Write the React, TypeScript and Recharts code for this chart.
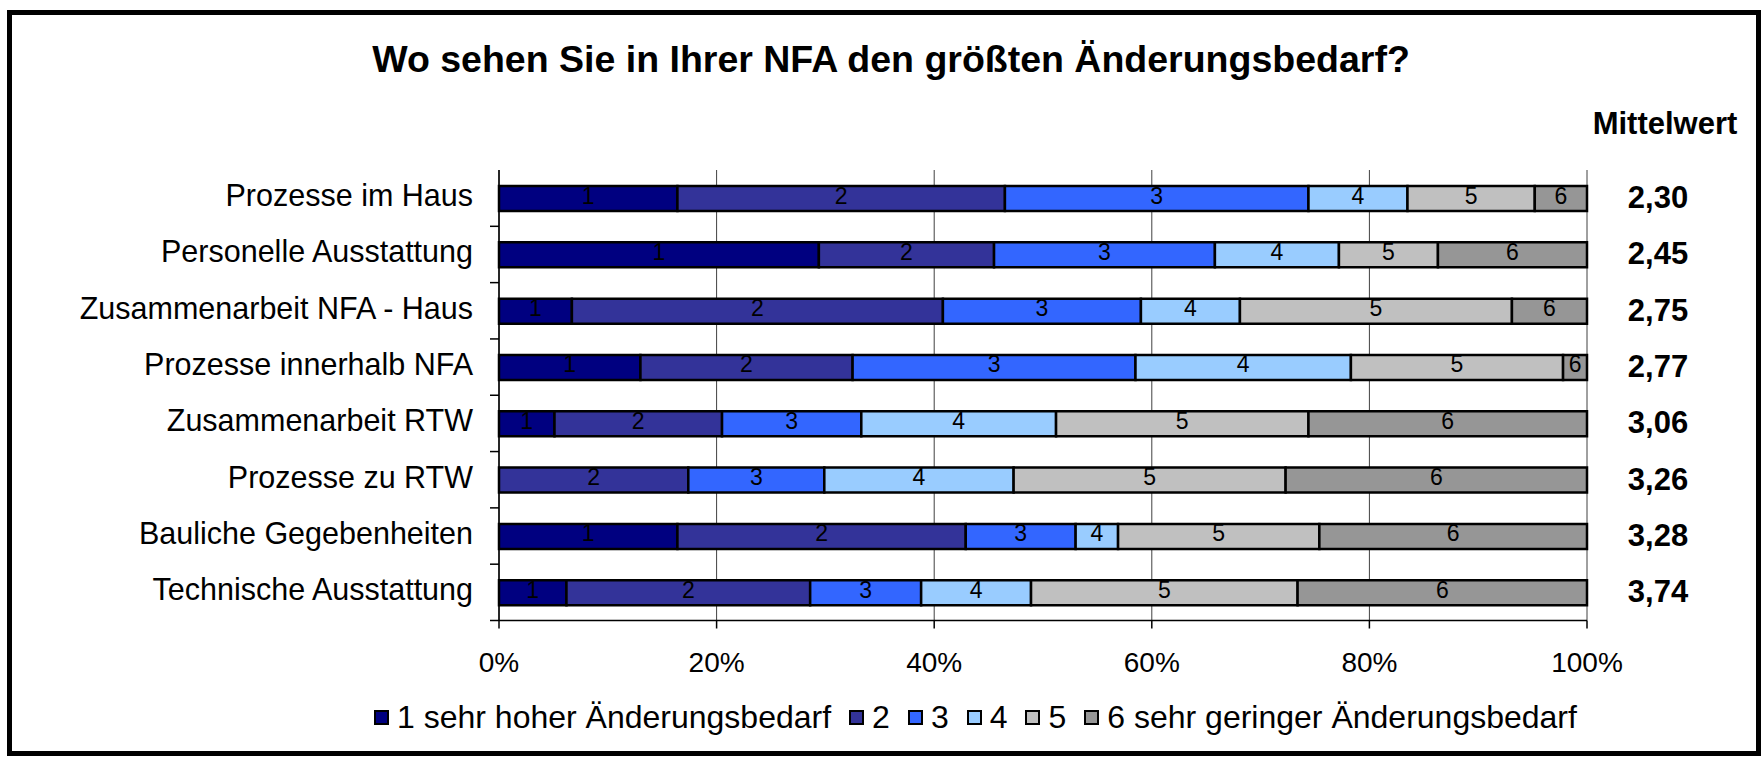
import React from "react";
import { BarChart, Bar, XAxis, YAxis, CartesianGrid, Legend, LabelList } from "recharts";

// ---------- data ----------
const categories = [
  "Prozesse im Haus",
  "Personelle Ausstattung",
  "Zusammenarbeit NFA - Haus",
  "Prozesse innerhalb NFA",
  "Zusammenarbeit RTW",
  "Prozesse zu RTW",
  "Bauliche Gegebenheiten",
  "Technische Ausstattung",
];
const s1 = [16.4, 29.4, 6.7, 13.0, 5.1, 0, 16.4, 6.2];
const s2 = [30.1, 16.1, 34.1, 19.5, 15.4, 17.4, 26.5, 22.4];
const s3 = [27.9, 20.3, 18.2, 26.0, 12.8, 12.5, 10.1, 10.2];
const s4 = [9.1, 11.4, 9.1, 19.8, 17.9, 17.4, 3.9, 10.1];
const s5 = [11.7, 9.1, 25.0, 19.5, 23.2, 25.0, 18.5, 24.5];
const s6 = [4.8, 13.7, 6.9, 2.2, 25.6, 27.7, 24.6, 26.6];
const means = ["2,30", "2,45", "2,75", "2,77", "3,06", "3,26", "3,28", "3,74"];
const seriesNames = [
  "1 sehr hoher Änderungsbedarf",
  "2",
  "3",
  "4",
  "5",
  "6 sehr geringer Änderungsbedarf",
];
const seriesShort = ["1", "2", "3", "4", "5", "6"];
const seriesColors = ["#000080", "#333399", "#3366FF", "#99CCFF", "#C0C0C0", "#969696"];
const xTicks = [0, 20, 40, 60, 80, 100];
const title = "Wo sehen Sie in Ihrer NFA den größten Änderungsbedarf?";
const meanHeader = "Mittelwert";

// ---------- layout ----------
const W = 1763;
const H = 760;
const PLOT_LEFT = 499;
const PLOT_RIGHT = 1587;
const PLOT_TOP = 170;
const PLOT_BOTTOM = 620.5;
const X_AXIS_H = 60;
const BAND = (PLOT_BOTTOM - PLOT_TOP) / categories.length;
const FONT = "'Liberation Sans', Arial, sans-serif";

const seriesValues = [s1, s2, s3, s4, s5, s6];
const keys = ["v1", "v2", "v3", "v4", "v5", "v6"];

const data = categories.map((name, i) => {
  const row: any = { name, mean: means[i] };
  keys.forEach((k, j) => (row[k] = seriesValues[j][i]));
  return row;
});
const meanByName: Record<string, string> = {};
data.forEach((d) => (meanByName[d.name] = d.mean));

const CategoryTick = (props: any) => {
  const { x, y, payload } = props;
  return (
    <g>
      <text x={x} y={y + 8} textAnchor="end" fontSize={30.5} fontFamily={FONT} fill="#000">
        {payload.value}
      </text>
      <line x1={PLOT_LEFT - 9} x2={PLOT_LEFT} y1={y + BAND / 2} y2={y + BAND / 2} stroke="#000" strokeWidth={1.5} />
    </g>
  );
};

const MeanTick = (props: any) => {
  const { x, y, payload } = props;
  return (
    <text x={x} y={y + 10} textAnchor="middle" fontSize={31} fontWeight="bold" fontFamily={FONT} fill="#000">
      {meanByName[payload.value]}
    </text>
  );
};

const XTick = (props: any) => {
  const { x, y, payload } = props;
  return (
    <text x={x} y={y} dy="0.71em" textAnchor="middle" fontSize={28} fontFamily={FONT} fill="#000">
      {payload.value + "%"}
    </text>
  );
};

const makeLabel = (txt: string) => (props: any) => {
  const { x, y, width, height, value } = props;
  if (!value) return null;
  return (
    <text x={x + width / 2} y={y + height / 2 + 5} textAnchor="middle" fontSize={23} fontFamily={FONT} fill="#000">
      {txt}
    </text>
  );
};

const LegendContent = (props: any) => {
  const payload = props.payload || [];
  return (
    <div
      style={{
        display: "flex",
        alignItems: "center",
        whiteSpace: "nowrap",
        fontFamily: FONT,
        fontSize: 32,
        lineHeight: "36px",
        color: "#000",
      }}
    >
      {payload.map((p: any, i: number) => (
        <div key={i} style={{ display: "flex", alignItems: "center", marginRight: i < payload.length - 1 ? 18 : 0 }}>
          <span
            style={{
              display: "inline-block",
              width: 15,
              height: 15,
              boxSizing: "border-box",
              background: p.color,
              border: "2px solid #000",
              marginRight: 8,
            }}
          />
          <span>{p.value}</span>
        </div>
      ))}
    </div>
  );
};

export default function App() {
  return (
    <div style={{ position: "absolute", left: 0, top: 0, width: W, height: H, background: "#fff", overflow: "hidden" }}>
      <div
        style={{
          position: "absolute",
          left: 7,
          top: 10,
          width: 1754,
          height: 746,
          boxSizing: "border-box",
          border: "5px solid #000",
        }}
      />
      <div style={{ position: "absolute", left: 0, top: 0 }}>
        <BarChart
          width={W}
          height={H}
          data={data}
          layout="vertical"
          margin={{ top: PLOT_TOP, right: 0, bottom: H - PLOT_BOTTOM - X_AXIS_H, left: 0 }}
          barSize={25}
        >
          <CartesianGrid horizontal={false} vertical={true} stroke="#404040" strokeWidth={1} />
          <XAxis
            type="number"
            domain={[0, 100]}
            ticks={xTicks}
            interval={0}
            height={X_AXIS_H}
            tickSize={8}
            tickMargin={24}
            tick={<XTick />}
            axisLine={{ stroke: "#000", strokeWidth: 1.5 }}
            tickLine={{ stroke: "#000", strokeWidth: 1.5 }}
          />
          <XAxis
            xAxisId="top"
            orientation="top"
            type="number"
            domain={[0, 100]}
            height={0}
            tick={false}
            tickLine={false}
            axisLine={{ stroke: "#808080", strokeWidth: 1.5 }}
          />
          <YAxis
            type="category"
            dataKey="name"
            width={PLOT_LEFT}
            tickSize={0}
            tickMargin={26}
            tickLine={false}
            tick={<CategoryTick />}
            interval={0}
            axisLine={{ stroke: "#000", strokeWidth: 1.5 }}
          />
          <YAxis
            yAxisId="right"
            orientation="right"
            type="category"
            dataKey="name"
            width={W - PLOT_RIGHT}
            tickSize={0}
            tickMargin={71}
            tickLine={false}
            axisLine={false}
            tick={<MeanTick />}
            interval={0}
          />
          {keys.map((k, j) => (
            <Bar
              key={k}
              dataKey={k}
              stackId="a"
              name={seriesNames[j]}
              fill={seriesColors[j]}
              stroke="#000"
              strokeWidth={2.5}
              isAnimationActive={false}
            >
              <LabelList dataKey={k} content={makeLabel(seriesShort[j])} />
            </Bar>
          ))}
          <Legend
            layout="horizontal"
            verticalAlign="middle"
            align="center"
            content={<LegendContent />}
            wrapperStyle={{ left: 374, top: 699, width: "auto", height: 36 }}
          />
        </BarChart>
      </div>
      <svg width={W} height={H} style={{ position: "absolute", left: 0, top: 0, pointerEvents: "none" }}>
        <text x={891} y={72} textAnchor="middle" fontSize={37.5} fontWeight="bold" fontFamily={FONT} fill="#000">
          {title}
        </text>
        <text x={1665} y={134} textAnchor="middle" fontSize={31} fontWeight="bold" fontFamily={FONT} fill="#000">
          {meanHeader}
        </text>
      </svg>
    </div>
  );
}
